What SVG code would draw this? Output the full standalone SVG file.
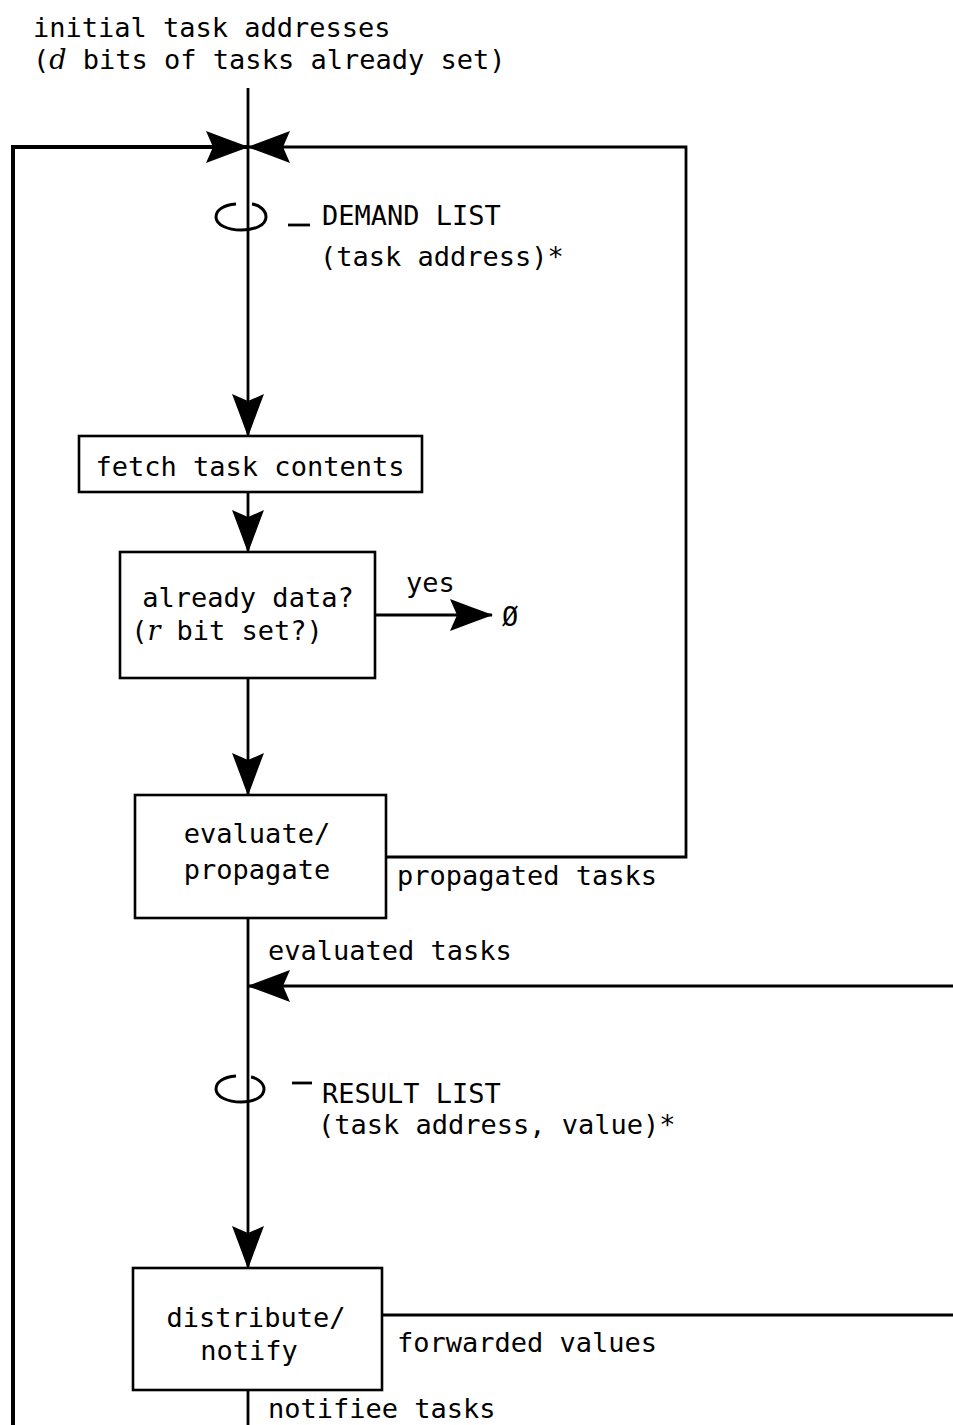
<svg xmlns="http://www.w3.org/2000/svg" width="953" height="1425" viewBox="0 0 953 1425">
  <style>
    text { font-family: "DejaVu Sans Mono", "Liberation Mono", monospace; font-size: 27px; fill: #000; }
    .it { font-family: "DejaVu Serif", "Liberation Serif", serif; font-style: italic; }
    .box { fill: #fff; stroke: #000; stroke-width: 2.6; }
    .wire { fill: none; stroke: #000; stroke-width: 2.8; }
    .arr { marker-end: url(#head); }
    .loop { fill: none; stroke: #000; stroke-width: 3; }
  </style>
  <defs>
    <!-- heavy notched arrowhead -->
    <marker id="head" markerUnits="userSpaceOnUse" markerWidth="44" markerHeight="32" viewBox="0 0 44 32" refX="43" refY="16" orient="auto">
      <path d="M44,16 Q22,8 1,0 L8,16 L1,32 Q22,24 44,16 Z" fill="#000"/>
    </marker>
  </defs>
  <rect width="953" height="1425" fill="#fff"/>

  <!-- heading -->
  <g id="source">
    <text x="33" y="37">initial task addresses</text>
    <text x="33" y="69">(<tspan class="it">d</tspan> bits of tasks already set)</text>
  </g>

  <!-- connectors -->
  <g id="connectors">
    <path class="wire arr" d="M248,88 V436"/>
    <path class="wire arr" d="M13,1425 V147 H248" style="stroke-width:4"/>
    <path class="wire arr" d="M386,857 H686 V147 H248"/>
    <path class="wire arr" d="M248,492 V552"/>
    <path class="wire arr" d="M375,615 H492"/>
    <path class="wire arr" d="M248,678 V795"/>
    <path class="wire arr" d="M248,918 V1268"/>
    <path class="wire arr" d="M953,986 H248"/>
    <path class="wire" d="M382,1315 H953"/>
    <path class="wire" d="M248,1390 V1425"/>
  </g>

  <!-- demand list queue -->
  <g id="demand-list">
    <path class="loop" d="M236,204 C222,205 216,211 216,217 C216,225 228,230 241,230 C255,230 266,225 266,217 C266,210 259,205 252,204"/>
    <path class="wire" d="M288,225 H310"/>
    <text x="322" y="225">DEMAND LIST</text>
    <text x="320" y="266">(task address)*</text>
  </g>

  <g id="fetch">
    <rect class="box" x="79" y="436" width="343" height="56"/>
    <text x="250" y="476" text-anchor="middle">fetch task contents</text>
  </g>

  <g id="already-data">
    <rect class="box" x="120" y="552" width="255" height="126"/>
    <text x="248" y="607" text-anchor="middle">already data?</text>
    <text x="227" y="640" text-anchor="middle">(<tspan class="it">r</tspan> bit set?)</text>
    <text x="406" y="592">yes</text>
    <text x="502" y="626">Ø</text>
  </g>

  <g id="evaluate">
    <rect class="box" x="135" y="795" width="251" height="123"/>
    <text x="257" y="843" text-anchor="middle">evaluate/</text>
    <text x="257" y="879" text-anchor="middle">propagate</text>
    <text x="397" y="885">propagated tasks</text>
    <text x="268" y="960">evaluated tasks</text>
  </g>

  <!-- result list queue -->
  <g id="result-list">
    <path class="loop" d="M236,1076 C222,1077 216,1083 216,1089 C216,1097 228,1102 241,1102 C254,1102 264,1097 264,1089 C264,1083 257,1078 251,1077"/>
    <path class="wire" d="M292,1083 H312"/>
    <text x="322" y="1103">RESULT LIST</text>
    <text x="318" y="1134">(task address, value)*</text>
  </g>

  <g id="distribute">
    <rect class="box" x="133" y="1268" width="249" height="122"/>
    <text x="256" y="1327" text-anchor="middle">distribute/</text>
    <text x="249" y="1360" text-anchor="middle">notify</text>
    <text x="397" y="1352">forwarded values</text>
    <text x="268" y="1418">notifiee tasks</text>
  </g>
</svg>
